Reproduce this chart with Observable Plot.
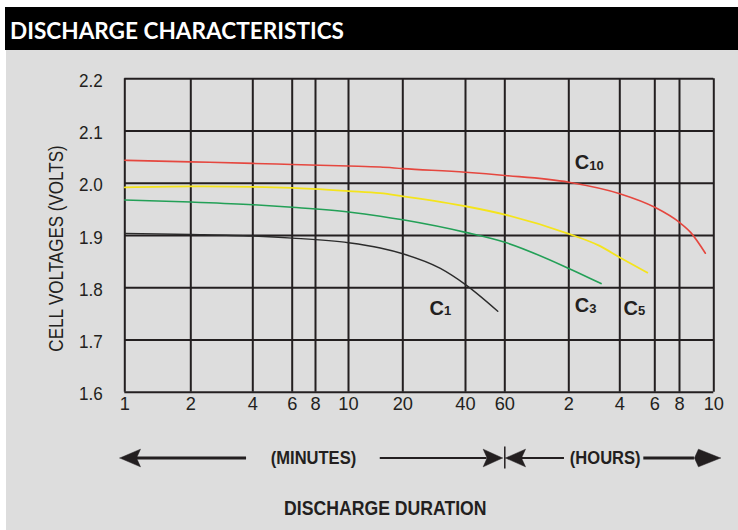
<!DOCTYPE html>
<html>
<head>
<meta charset="utf-8">
<script src="https://cdn.jsdelivr.net/npm/d3@7"></script>
<script src="https://cdn.jsdelivr.net/npm/@observablehq/plot@0.6"></script>
<style>
  html, body { margin: 0; padding: 0; background: #ffffff; }
  #wrap { position: relative; width: 738px; height: 530px; overflow: hidden; background: #ffffff; }
  #title { position: absolute; left: 5px; top: 7px; width: 733px; height: 43px; background: #000000; color: #ffffff;
           font-family: Lato, "Open Sans", sans-serif; font-weight: bold; font-size: 22.6px; line-height: 48px;
           padding-left: 5px; box-sizing: border-box; white-space: nowrap; }
  #chart { position: absolute; left: 6px; top: 50px; width: 732px; height: 480px; background: #dddddd; }
  #chart svg { display: block; }
</style>
</head>
<body>
<div id="wrap">
  <div id="title">DISCHARGE CHARACTERISTICS</div>
  <div id="chart"></div>
</div>
<script>
// ---- axis ticks ----
const xTicks = [1, 2, 4, 6, 8, 10, 20, 40, 60, 120, 240, 360, 480, 600];          // minutes
const xTickLabels = ["1", "2", "4", "6", "8", "10", "20", "40", "60", "2", "4", "6", "8", "10"];
const yTicks = [1.6, 1.7, 1.8, 1.9, 2.0, 2.1, 2.2];

// ---- series (x = minutes of discharge, y = cell volts) ----
const minutesC10 = [1, 2, 4, 6, 10, 15, 20, 40, 60, 120, 240, 360, 480, 516, 568];
const voltsC10   = [2.044, 2.041, 2.038, 2.036, 2.033, 2.031, 2.028, 2.021, 2.015, 2.002, 1.980, 1.954, 1.925, 1.906, 1.866];
const minutesC5  = [1, 2, 4, 6, 10, 15, 20, 40, 60, 120, 180, 240, 330];
const voltsC5    = [1.992, 1.994, 1.993, 1.991, 1.985, 1.981, 1.975, 1.956, 1.940, 1.903, 1.881, 1.858, 1.829];
const minutesC3  = [1, 2, 4, 6, 10, 15, 20, 40, 60, 120, 186];
const voltsC3    = [1.968, 1.964, 1.959, 1.954, 1.945, 1.937, 1.930, 1.906, 1.887, 1.837, 1.808];
const minutesC1  = [1, 2, 4, 6, 10, 15, 20, 30.3, 40, 55.8];
const voltsC1    = [1.904, 1.902, 1.899, 1.895, 1.886, 1.876, 1.865, 1.837, 1.806, 1.755];

// ---- curve labels ----
const labelSubs    = ["10", "1", "3", "5"];
const labelMinutes = [130, 26.9, 130, 250.5];
const labelVolts   = [2.039, 1.761, 1.765, 1.761];

// ---- duration annotation (below the axis) ----
const annotVolts = 1.474;
const annotTexts = ["(MINUTES)", "(HOURS)"];
const annotTextMinutes = [7.8, 196.8];
const thickShaftStart = [1.131, 317];
const thickShaftEnd   = [3.73, 529];
const thinShaftStart  = [15.0, 71.9];
const thinShaftEnd    = [50.0, 114.5];
const headTip   = [0.949, 58.6, 60.45, 627];
const headBase  = [1.179, 48.0, 75.1, 543];
const headNotch = [1.131, 50.0, 71.9, 529];
const headHalf = 0.0169;
const dividerMinutes = 60;
const axisTitle = "DISCHARGE DURATION";
const axisTitleMinutes = 16.0;
const axisTitleVolts = 1.377;
const yTitle = "CELL VOLTAGES (VOLTS)";

const toRows = (xs, ys) => xs.map((m, i) => ({m, v: ys[i]}));
const heads = headTip.flatMap((t, i) => [
  {id: i, m: t, v: annotVolts},
  {id: i, m: headBase[i], v: annotVolts + headHalf},
  {id: i, m: headNotch[i], v: annotVolts},
  {id: i, m: headBase[i], v: annotVolts - headHalf},
  {id: i, m: t, v: annotVolts}
]);

const ink = "#231f20";
// the second (unavailable) family name only tags how much the text is condensed
const fam = r => `'Liberation Sans', Arial, sq${r}`;
const ox = 6; // chart container offset within page

const chart = Plot.plot({
  width: 732,
  height: 480,
  marginLeft: 124.3 - ox,
  marginRight: 738 - 713.3,
  marginTop: 28.3,
  marginBottom: 138.3,
  style: {background: "transparent", fontFamily: "'Liberation Sans', Arial, sans-serif", fontSize: "19px", color: ink, overflow: "visible"},
  x: {
    type: "log",
    domain: xTicks,
    range: [124.3, 190.3, 252.3, 291.7, 315, 348, 402.3, 465, 504.3, 568.3, 619.3, 654.3, 679, 713.3].map(p => p - ox),
    axis: null
  },
  y: {domain: [1.6, 2.2], axis: null},
  marks: [
    Plot.ruleY(yTicks, {x1: 1, x2: 600, stroke: ink, strokeWidth: 2}),
    Plot.ruleX(xTicks, {y1: 1.6, y2: 2.2, stroke: ink, strokeWidth: 2}),
    // tick labels
    Plot.text(xTicks, {x: d => d, text: (d, i) => xTickLabels[i], frameAnchor: "bottom", dy: 17.5,
      fontFamily: fam(96), fontSize: 19, fill: ink}),
    Plot.text(yTicks, {y: d => d, text: d => d3.format(".1f")(d), frameAnchor: "left", textAnchor: "end", dx: -22, dy: 2,
      fontFamily: fam(90), fontSize: 19, fill: ink}),
    // curves
    Plot.line(toRows(minutesC1, voltsC1), {x: "m", y: "v", stroke: "#2b2b2b", strokeWidth: 1.4, curve: "monotone-x"}),
    Plot.line(toRows(minutesC3, voltsC3), {x: "m", y: "v", stroke: "#23a057", strokeWidth: 1.6, curve: "monotone-x"}),
    Plot.line(toRows(minutesC5, voltsC5), {x: "m", y: "v", stroke: "#f4e41c", strokeWidth: 1.8, curve: "monotone-x"}),
    Plot.line(toRows(minutesC10, voltsC10), {x: "m", y: "v", stroke: "#e5473f", strokeWidth: 1.6, curve: "monotone-x"}),
    Plot.text(labelSubs, {x: (d, i) => labelMinutes[i], y: (d, i) => labelVolts[i], text: () => "C",
      textAnchor: "start", fontFamily: "'Liberation Sans', Arial, sans-serif", fontWeight: "bold", fontSize: 20, fill: ink}),
    Plot.text(labelSubs, {x: (d, i) => labelMinutes[i], y: (d, i) => labelVolts[i], text: d => d,
      textAnchor: "start", dx: 14.5, dy: 2.5, fontFamily: "'Liberation Sans', Arial, sans-serif", fontWeight: "bold", fontSize: 13, fill: ink}),
    // y axis title
    Plot.text([yTitle], {frameAnchor: "left", text: d => d, rotate: -90, textAnchor: "middle", dx: -68.3, dy: 13,
      fontFamily: fam(85), fontSize: 20, fill: ink}),
    // duration annotation
    Plot.ruleY(thickShaftStart, {x1: d => d, x2: (d, i) => thickShaftEnd[i], y: annotVolts, stroke: ink, strokeWidth: 3}),
    Plot.ruleY(thinShaftStart, {x1: d => d, x2: (d, i) => thinShaftEnd[i], y: annotVolts, stroke: ink, strokeWidth: 2}),
    Plot.line(heads, {x: "m", y: "v", z: "id", fill: ink, stroke: ink, strokeWidth: 0.5}),
    Plot.ruleX([dividerMinutes], {y1: annotVolts - 0.021, y2: annotVolts + 0.021, stroke: ink, strokeWidth: 1.5}),
    Plot.text(annotTexts, {x: (d, i) => annotTextMinutes[i], y: annotVolts, text: d => d,
      fontFamily: fam(87), fontWeight: "bold", fontSize: 19, fill: ink}),
    Plot.text([axisTitle], {x: axisTitleMinutes, y: axisTitleVolts, text: d => d,
      fontFamily: fam(84), fontWeight: "bold", fontSize: 21, fill: ink})
  ]
});
document.getElementById("chart").appendChild(chart);

// condense the narrow-style texts (the reference uses a narrow grotesque)
chart.querySelectorAll("text").forEach(t => {
  const m = /sq(\d+)/.exec(getComputedStyle(t).fontFamily);
  if (!m) return;
  const r = +m[1] / 100;
  const len = t.getComputedTextLength();
  t.setAttribute("textLength", (len * r).toFixed(2));
  t.setAttribute("lengthAdjust", "spacingAndGlyphs");
});
</script>
</body>
</html>
